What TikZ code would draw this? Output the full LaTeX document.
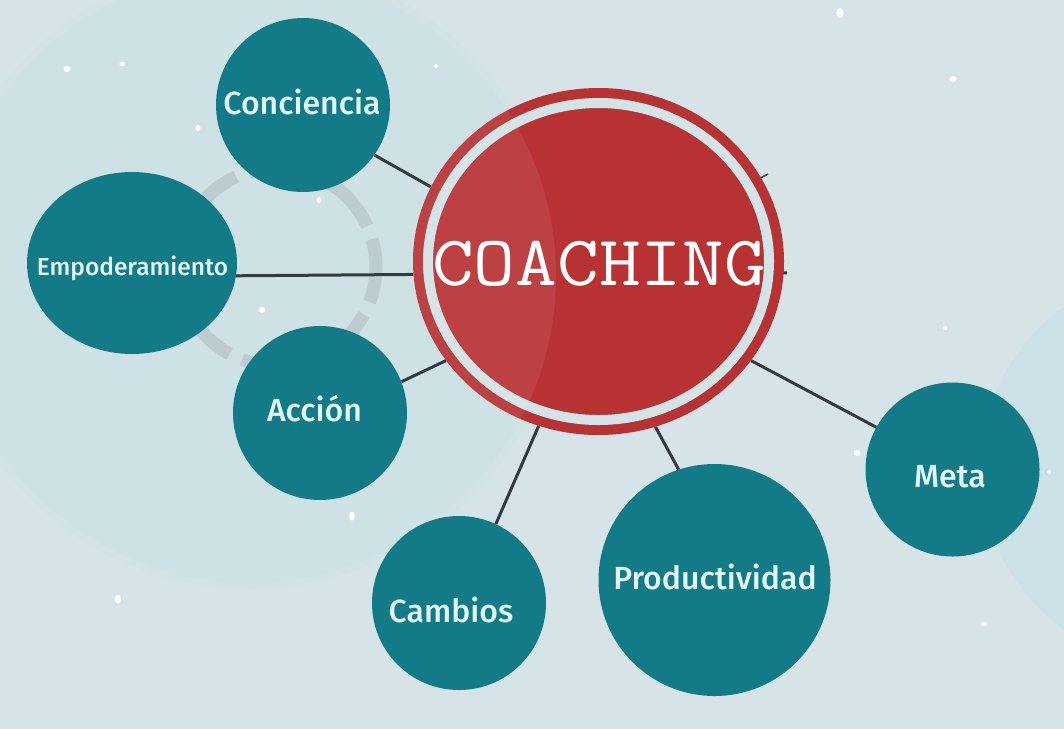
\documentclass[tikz,border=0pt]{standalone}
\usepackage{fontspec}
\usepackage{graphicx}
\usetikzlibrary{shapes.geometric}
\IfFontExistsTF{Fira Sans Medium}{\newfontfamily\labfont{Fira Sans Medium}}{\newfontfamily\labfont{Fira Sans}[FakeBold=1]}
\definecolor{bgcol}{HTML}{D6E4E7}
\definecolor{bigcol}{HTML}{CEE1E5}
\definecolor{halocol}{HTML}{D2E3E6}
\definecolor{rightcol}{HTML}{CBE1E7}
\definecolor{tealc}{HTML}{127B87}
\definecolor{labcol}{HTML}{E2F5F2}
\definecolor{redc}{HTML}{B83234}
\definecolor{gapcol}{HTML}{D3E3E6}
\definecolor{dashcol}{HTML}{BDCCD0}
\definecolor{linecol}{HTML}{333B3F}
\pgfdeclarelayer{bg}
\pgfdeclarelayer{edges}
\pgfsetlayers{bg,edges,main}
\tikzset{
  tealnode/.style={circle, fill=tealc, draw=none, inner sep=0pt},
  labtext/.style={text=labcol, anchor=base, inner sep=0pt, font=\labfont\fontsize{32}{32}\selectfont},
  conn/.style={draw=linecol, line width=3pt},
  snow/.style={fill=white}
}
\begin{document}
\begin{tikzpicture}[x=1pt,y=-1pt]
\useasboundingbox (0,0) rectangle (1064,729);
\begin{pgfonlayer}{bg}
  \fill[bgcol] (0,0) rectangle (1064,729);
  \fill[halocol] (250,276) circle [radius=313];
  \fill[bigcol] (250,276) circle [radius=306];
  \fill[rightcol] (1180,468) circle [radius=199];
  % snow
  \fill[snow] (67,69) ellipse [x radius=3.5, y radius=3];
  \fill[snow] (122,64) ellipse [x radius=2.5, y radius=2.5];
  \fill[snow] (198,128) ellipse [x radius=2.5, y radius=3];
  \fill[snow] (319,200) ellipse [x radius=2.5, y radius=3];
  \fill[snow] (262,310) ellipse [x radius=3.5, y radius=3];
  \fill[snow] (436,66) ellipse [x radius=2, y radius=2];
  \fill[snow] (352,516) ellipse [x radius=3, y radius=4.5];
  \fill[snow] (118,599) ellipse [x radius=3, y radius=4.5];
  \fill[snow] (840,13) ellipse [x radius=3.5, y radius=5];
  \fill[snow] (953,79) ellipse [x radius=3.5, y radius=3];
  \fill[snow] (945,328) ellipse [x radius=2.5, y radius=2];
  \fill[snow] (857,453) ellipse [x radius=3.5, y radius=3];
  \fill[snow] (1049,472) ellipse [x radius=2, y radius=2];
  \fill[snow] (984,624) ellipse [x radius=2.5, y radius=2];
  % dashed ring
  \draw[dashcol, line width=13pt, dash pattern=on 64pt off 13.75pt, dash phase=28.3pt] (277,267) circle [radius=99];
\end{pgfonlayer}

% centre
\node[ellipse, fill=redc, draw=none, inner sep=0pt, minimum width=371pt, minimum height=347pt] (coach) at (598.5,261.5) {};
\draw[gapcol, line width=10pt] (coach.center) ellipse [x radius=170.5, y radius=158.5];
\begin{scope}
  \clip (250,276) circle [radius=306];
  \fill[white, opacity=0.07] (coach.center) ellipse [x radius=185.5, y radius=173.5];
\end{scope}
\node[text=white, anchor=base, inner sep=0pt, font=\ttfamily\fontsize{71}{71}\selectfont] (coach-t) at (599,285) {\scalebox{1.14}[1]{COACHING}};

% satellites
\node[tealnode, minimum size=174pt] (conc) at (303,105) {};
\node[ellipse, fill=tealc, draw=none, inner sep=0pt, minimum width=210pt, minimum height=182pt] (emp) at (132,263) {};
\node[tealnode, minimum size=174pt] (acc) at (320,413) {};
\node[tealnode, minimum size=174pt] (camb) at (459,603) {};
\node[tealnode, minimum size=232pt] (prod) at (714.5,580) {};
\node[tealnode, minimum size=174pt] (meta) at (952.5,469.5) {};

\node[labtext] (conc-t) at (302,114.5) {Conciencia};
\node[labtext, font=\labfont\fontsize{24.5}{24.5}\selectfont] (emp-t) at (132.5,275.5) {Empoderamiento};
\node[labtext] (acc-t) at (314.5,421) {Acción};
\node[labtext] (camb-t) at (451,622) {Cambios};
\node[labtext] (prod-t) at (715,589) {Productividad};
\node[labtext] (meta-t) at (950,487) {Meta};

\coordinate (stubA) at (768,174);
\coordinate (stubB) at (787,273);

\begin{pgfonlayer}{edges}
  \draw[conn] (conc.-35) -- (coach.156);
  \draw[conn] (emp.-7) -- (coach.184);
  \draw[conn] (acc.21) -- (coach.213);
  \draw[conn] (camb.65) -- (coach.250);
  \draw[conn] (prod.108) -- (coach.-71);
  \draw[conn] (meta.151) -- (coach.-33);
  \draw[conn, line width=1.5pt] (coach.center) -- (stubA);
  \draw[conn] (coach.center) -- (stubB);
\end{pgfonlayer}
\end{tikzpicture}
\end{document}
